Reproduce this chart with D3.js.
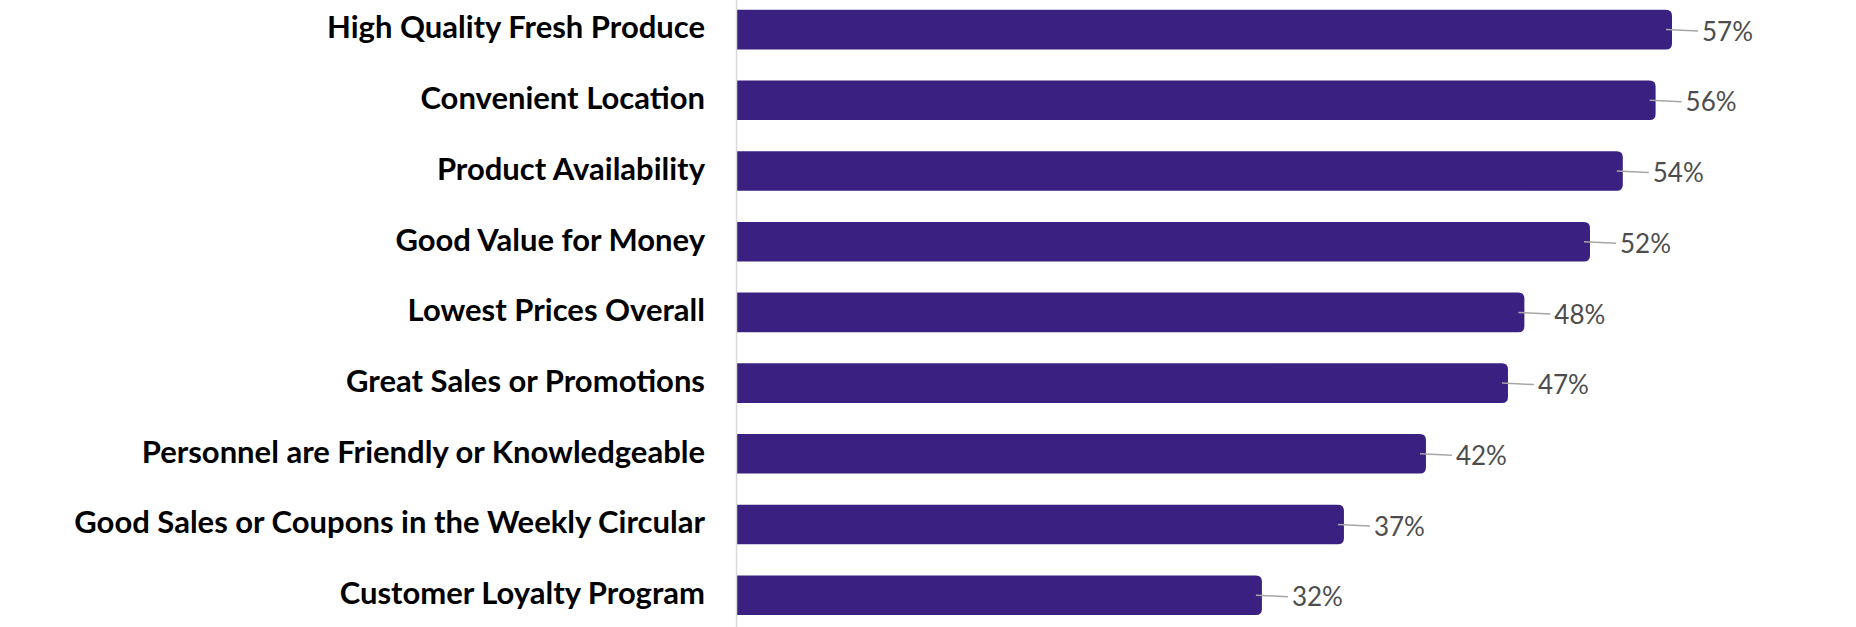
<!DOCTYPE html>
<html>
<head>
<meta charset="utf-8">
<script src="https://cdn.jsdelivr.net/npm/d3@7"></script>
<style>
  html, body { margin: 0; padding: 0; background: #fff; }
  svg { display: block; }
</style>
</head>
<body>
<svg id="chart" width="1856" height="627"></svg>
<script>
const categories = [
  "High Quality Fresh Produce",
  "Convenient Location",
  "Product Availability",
  "Good Value for Money",
  "Lowest Prices Overall",
  "Great Sales or Promotions",
  "Personnel are Friendly or Knowledgeable",
  "Good Sales or Coupons in the Weekly Circular",
  "Customer Loyalty Program",
];
const values = [57, 56, 54, 52, 48, 47, 42, 37, 32];

const svg = d3.select("#chart");
const axisX = 737;
const barColor = "#3a2080";

const xScale = d3.scaleLinear().domain([0, 57]).range([axisX, 1672]);

const yScale = d3
  .scaleBand()
  .domain(categories)
  .range([-5.75, 630.55])
  .paddingInner(0.44)
  .paddingOuter(0.22);

const data = categories.map((c, i) => ({ name: c, value: values[i] }));

// bars, square on the axis side and rounded at the end
const barPath = (d) => {
  const x0 = xScale(0);
  const x1 = xScale(d.value);
  const y0 = yScale(d.name);
  const h = yScale.bandwidth();
  const r = 6;
  return `M${x0},${y0}H${x1 - r}Q${x1},${y0} ${x1},${y0 + r}` +
    `V${y0 + h - r}Q${x1},${y0 + h} ${x1 - r},${y0 + h}H${x0}Z`;
};

svg
  .append("g")
  .selectAll("path")
  .data(data)
  .join("path")
  .attr("d", barPath)
  .attr("fill", barColor);

// vertical axis line
svg
  .append("line")
  .attr("x1", axisX - 0.5)
  .attr("x2", axisX - 0.5)
  .attr("y1", 0)
  .attr("y2", 627)
  .attr("stroke", "#d9d9d9")
  .attr("stroke-width", 1.5);

// category labels
svg
  .append("g")
  .selectAll("text")
  .data(data)
  .join("text")
  .attr("x", 705)
  .attr("y", (d) => yScale(d.name) + yScale.bandwidth() / 2 - 2)
  .attr("dy", "0.35em")
  .attr("text-anchor", "end")
  .attr("font-family", "Lato, 'Open Sans', sans-serif")
  .attr("font-weight", "bold")
  .attr("font-size", 31)
  .attr("fill", "#000")
  .text((d) => d.name);

// leader lines + value labels
const labels = svg.append("g");
labels
  .selectAll("line")
  .data(data)
  .join("line")
  .attr("x1", (d) => xScale(d.value) - 6)
  .attr("x2", (d) => xScale(d.value) + 26)
  .attr("y1", (d) => yScale(d.name) + yScale.bandwidth() / 2)
  .attr("y2", (d) => yScale(d.name) + yScale.bandwidth() / 2 + 1.5)
  .attr("stroke", "#a6a6a6")
  .attr("stroke-width", 1.5);

labels
  .selectAll("text")
  .data(data)
  .join("text")
  .attr("x", (d) => xScale(d.value) + 30)
  .attr("y", (d) => yScale(d.name) + yScale.bandwidth() / 2 + 2)
  .attr("dy", "0.35em")
  .attr("font-family", "Lato, 'Open Sans', sans-serif")
  .attr("font-size", 26)
  .attr("fill", "#4d4d4d")
  .text((d) => d.value + "%");
</script>
</body>
</html>
